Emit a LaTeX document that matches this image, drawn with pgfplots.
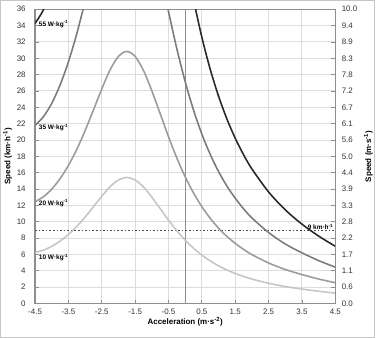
\documentclass[border=0pt]{standalone}
\usepackage{fontspec}
\setmainfont{Liberation Sans}
\usepackage{pgfplots}
\pgfplotsset{compat=1.18}

\definecolor{c10}{HTML}{C6C6C6}
\definecolor{c20}{HTML}{9C9C9C}
\definecolor{c35}{HTML}{7C7C7C}
\definecolor{c55}{HTML}{2A2A2A}
\definecolor{gridc}{HTML}{DDDDDD}
\definecolor{axc}{HTML}{8E8E8E}

\begin{document}
\begin{tikzpicture}
\begin{axis}[name=ax,
  scale only axis, width=302pt, height=296pt,
  xmin=-4.5, xmax=4.5, ymin=0, ymax=36,
  xtick={-4.5,-3.5,-2.5,-1.5,-0.5,0.5,1.5,2.5,3.5,4.5},
  xticklabels={-4.5,-3.5,-2.5,-1.5,-0.5,0.5,1.5,2.5,3.5,4.5},
  ytick={0,2,...,36},
  xtick pos=bottom, ytick pos=left,
  grid=major, grid style={gridc, line width=1pt},
  axis line style={axc, line width=1.2pt},
  tick style={axc, line width=0.8pt}, tick align=inside, major tick length=4pt,
  /pgf/number format/assume math mode=true,
  ticklabel style={font=\fontsize{8}{9}\selectfont, text=black!80},
  yticklabel style={xshift=-6pt},
  xticklabel style={yshift=-2pt},
  xlabel={\textbf{Acceleration (m·s\textsuperscript{-2})}},
  ylabel={\textbf{Speed (km·h\textsuperscript{-1})}},
  label style={font=\fontsize{8}{9}\selectfont},
  xlabel style={yshift=4pt},
  ylabel style={yshift=-2pt},
  every axis plot/.append style={smooth, line width=1.6pt},
]
\addplot[axc, line width=1.2pt, sharp plot] coordinates {(0,0) (0,36)};
\addplot[black!70, dotted, line width=0.7pt, sharp plot] coordinates {(-4.5,9) (4.5,9)};
% 10 W/kg
\addplot[c10] coordinates {(-4.5,6.23) (-4.25,6.53) (-4,7.00) (-3.75,7.64) (-3.5,8.45) (-3.25,9.43) (-3,10.58) (-2.75,11.84) (-2.5,13.13) (-2.25,14.30) (-2,15.12) (-1.75,15.42) (-1.5,15.11) (-1.25,14.25) (-1,13.01) (-0.75,11.61) (-0.5,10.20) (-0.25,8.90) (0,7.75) (0.25,6.76) (0.5,5.92) (0.75,5.21) (1,4.61) (1.25,4.10) (1.5,3.68) (1.75,3.31) (2,2.99) (2.5,2.48) (3,2.08) (3.5,1.77) (4,1.50) (4.5,1.27)};
% 20 W/kg
\addplot[c20] coordinates {(-4.5,12.46) (-4.25,13.06) (-4,14.00) (-3.75,15.28) (-3.5,16.90) (-3.25,18.86) (-3,21.16) (-2.75,23.68) (-2.5,26.26) (-2.25,28.60) (-2,30.24) (-1.75,30.84) (-1.5,30.22) (-1.25,28.50) (-1,26.02) (-0.75,23.22) (-0.5,20.40) (-0.25,17.80) (0,15.50) (0.25,13.52) (0.5,11.84) (0.75,10.42) (1,9.22) (1.25,8.21) (1.5,7.36) (1.75,6.62) (2,5.98) (2.5,4.96) (3,4.16) (3.5,3.54) (4,3.00) (4.5,2.54)};
% 35 W/kg
\addplot[c35] coordinates {(-4.5,21.81) (-4.25,22.86) (-4,24.50) (-3.75,26.74) (-3.5,29.58) (-3.25,33.01) (-3,37.03) (-2.75,41.44)};
\addplot[c35] coordinates {(-0.75,40.64) (-0.5,35.70) (-0.25,31.15) (0,27.13) (0.25,23.66) (0.5,20.72) (0.75,18.24) (1,16.14) (1.25,14.37) (1.5,12.88) (1.75,11.58) (2,10.47) (2.5,8.68) (3,7.28) (3.5,6.20) (4,5.25) (4.5,4.45)};
% 55 W/kg
\addplot[c55] coordinates {(-4.5,34.27) (-4.25,35.93) (-4,38.52) (-3.75,42.01)};
\addplot[c55] coordinates {(-0.25,48.96) (0,42.64) (0.25,37.19) (0.5,32.56) (0.75,28.65) (1,25.36) (1.25,22.58) (1.5,20.21) (1.75,18.20) (2,16.46) (2.5,13.65) (3,11.46) (3.5,9.71) (4,8.25) (4.5,7.00)};
\begin{scope}[every node/.style={font=\fontsize{6.5}{7}\selectfont\bfseries, inner sep=1pt}]
\node[anchor=west] at (axis cs:-4.42,34.2) {55 W·kg\textsuperscript{-1}};
\node[anchor=west] at (axis cs:-4.42,21.5) {35 W·kg\textsuperscript{-1}};
\node[anchor=west] at (axis cs:-4.42,12.3) {20 W·kg\textsuperscript{-1}};
\node[anchor=west] at (axis cs:-4.42,5.6) {10 W·kg\textsuperscript{-1}};
\node[anchor=south east] at (axis cs:4.47,8.9) {9 km·h\textsuperscript{-1}};
\end{scope}
\end{axis}
\begin{axis}[
  scale only axis, width=302pt, height=296pt,
  xmin=-4.5, xmax=4.5, ymin=0, ymax=36,
  axis x line=none, axis y line*=right,
  ytick={0,2,...,36},
  yticklabels={0.0,0.6,1.1,1.7,2.2,2.8,3.3,3.9,4.4,5.0,5.6,6.1,6.7,7.2,7.8,8.3,8.9,9.4,10.0},
  axis line style={axc, line width=1.2pt},
  tick style={axc, line width=0.8pt}, tick align=inside, major tick length=4pt,
  ticklabel style={font=\fontsize{8}{9}\selectfont, text=black!80},
  yticklabel style={xshift=3pt},
  ylabel={\textbf{Speed (m·s\textsuperscript{-1})}},
  label style={font=\fontsize{8}{9}\selectfont},
]
\end{axis}
\draw[gray!45, line width=0.6pt] ([xshift=-35pt,yshift=-34pt]ax.south west) rectangle ([xshift=39pt,yshift=9pt]ax.north east);
\end{tikzpicture}
\end{document}
